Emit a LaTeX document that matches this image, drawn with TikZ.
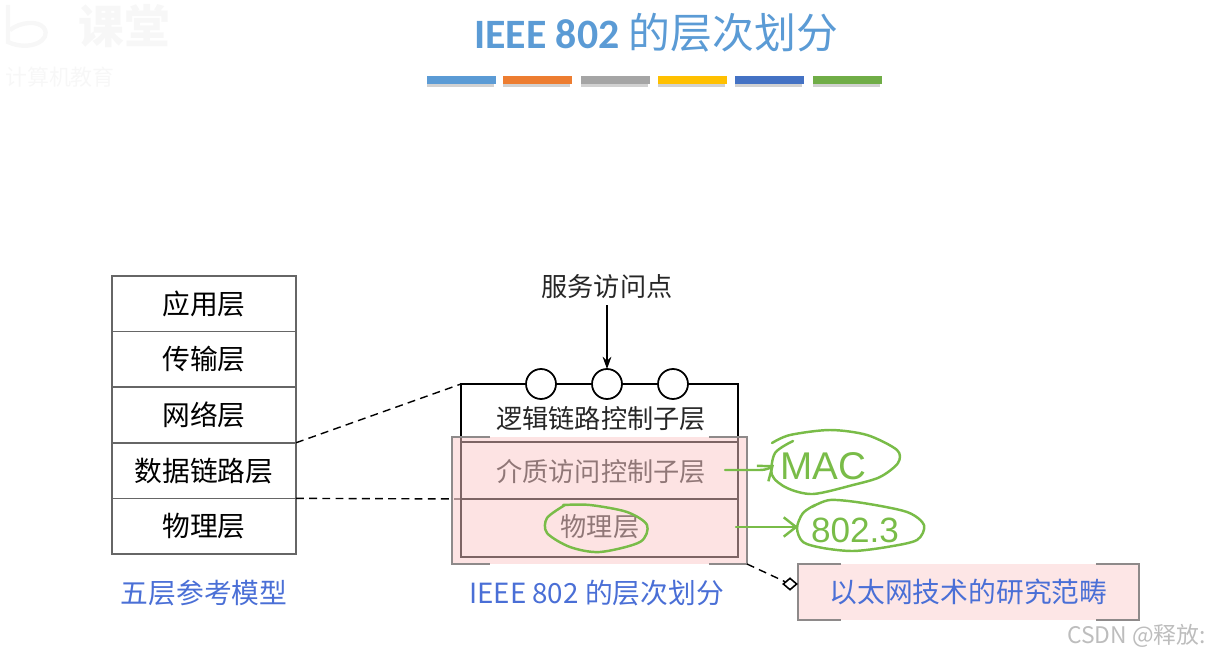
\documentclass[tikz,border=0pt]{standalone}
\usepackage{fontspec}
\setmainfont{Noto Sans CJK SC}
\newfontfamily\titlefont{Carlito}
\newfontfamily\handfont{Liberation Sans}
\usetikzlibrary{shapes.geometric, arrows.meta, positioning, calc}

\definecolor{titleblue}{HTML}{5B9BD5}
\definecolor{labelblue}{HTML}{4A6FD6}
\definecolor{pinkfill}{HTML}{FBC8C8}
\definecolor{calloutfill}{HTML}{FDE6E6}
\definecolor{bracketgray}{HTML}{8E8A8A}
\definecolor{handgreen}{HTML}{79BC48}

\tikzset{
  stackbox/.style={draw=black!60, line width=0.9pt, minimum width=3.68cm, minimum height=1.112cm,
    outer sep=0pt, inner sep=0pt, font=\fontsize{15.8}{18}\selectfont},
  layerbox/.style={minimum width=5.54cm, outer sep=0pt, inner sep=0pt},
  layertext/.style={font=\fontsize{14.9}{18}\selectfont, text=black!85},
  bluelabel/.style={font=\fontsize{15.8}{18}\selectfont, text=labelblue},
  hand/.style={draw=handgreen, line width=1.4pt, line cap=round, line join=round},
  linkdash/.style={line width=0.8pt, dash pattern=on 4.5pt off 3pt},
  mark bar/.style={minimum width=1.38cm, minimum height=0.16cm, inner sep=0pt, outer sep=0pt},
  water/.style={text=black!3}
}

% gray side lines with short stubs at the corners
\newcommand{\bracketbox}[2]{
  \draw[bracketgray, line width=1pt] ([xshift=#2]#1.north west) -- (#1.north west) -- (#1.south west) -- ([xshift=#2]#1.south west);
  \draw[bracketgray, line width=1pt] ([xshift=-#2]#1.north east) -- (#1.north east) -- (#1.south east) -- ([xshift=-#2]#1.south east);
}

\begin{document}
\begin{tikzpicture}[x=0.02cm, y=-0.02cm, node distance=0pt]
\useasboundingbox (0,0) rectangle (1213,655);

% Watermark
\node[water, font=\bfseries\fontsize{26}{28}\selectfont] (wmark) at (124,26) {课堂};
\node[water, font=\fontsize{12.5}{14}\selectfont] (wmarksub) at (60,77) {计算机教育};
\draw[black!3, line width=2.5pt] (8,5) -- (8,42) .. controls (30,52) and (52,40) .. (44,28) .. controls (38,20) and (20,22) .. (10,30);

% Title
\node[text=titleblue, font=\fontsize{23.8}{26}\selectfont] (title) at (656,33) {{\titlefont\bfseries IEEE 802} 的层次划分};

% Colour bars
\foreach \x/\c in {461/5B9BD5,537/ED7D31,615/A5A5A5,692/FFC000,769/4472C4,847/70AD47}{
    \definecolor{barcolor}{HTML}{\c}
    \fill[black!18] (\x-34,83) rectangle (\x+33,87);
    \node[mark bar, fill=barcolor] (bar\x) at (\x,80) {};
}

% Five layer model
\node[stackbox] (appbox) at (204,303.8) {应用层};
\node[stackbox, below=of appbox] (transbox) {传输层};
\node[stackbox, below=of transbox] (netbox) {网络层};
\node[stackbox, below=of netbox] (linkbox) {数据链路层};
\node[stackbox, below=of linkbox] (physbox) {物理层};
\node[bluelabel] (stacklabel) at (204,593) {五层参考模型};

% IEEE 802 layers
\node[layerbox, minimum height=1.16cm] (llcbox) at (599.5,413) {};
\node[layerbox, minimum height=1.14cm, below=of llcbox] (macbox) {};
\node[layerbox, minimum height=1.16cm, below=of macbox] (phybox) {};
\node[layertext] (llctext) at (601,419) {逻辑链路控制子层};
\node[layertext] (mactext) at (601,472) {介质访问控制子层};
\node[layertext] (phytext) at (600,527) {物理层};
\draw[line width=1.5pt] (llcbox.north west) rectangle (phybox.south east);
\draw[line width=0.8pt] (macbox.north west) -- (macbox.north east);
\draw[line width=0.8pt] (macbox.south west) -- (macbox.south east);
\node[bluelabel] (ieeelabel) at (596.5,593) {IEEE 802 的层次划分};

% Service access points
\foreach \x/\n in {541/sapa,607/sapb,673/sapc}
    \node[circle, draw, fill=white, line width=1pt, minimum size=0.6cm, inner sep=0pt, outer sep=0pt] (\n) at (\x,384) {};
\node[font=\fontsize{14.9}{18}\selectfont, text=black!85] (saptext) at (607,287) {服务访问点};
\draw[-{Stealth[length=7pt,width=5pt]}, line width=0.7pt] (saptext.south -| sapb) -- (sapb.north);

% Dashed links
\draw[linkdash] (linkbox.north east) -- (llcbox.north west);
\draw[linkdash] (linkbox.south east) -- (macbox.south west);

% Highlight over the lower layers
\node[minimum width=5.9cm, minimum height=2.54cm, fill=pinkfill, fill opacity=0.5, inner sep=0pt, outer sep=0pt] (pinkbox) at (599.5,500.5) {};
\bracketbox{pinkbox}{0.76cm}

% Callout
\node[minimum width=6.82cm, minimum height=1.12cm, fill=calloutfill, inner sep=0pt, outer sep=0pt, bluelabel] (callout) at (968.5,592) {以太网技术的研究范畴};
\bracketbox{callout}{0.86cm}
\node[diamond, draw, fill=white, line width=0.9pt, minimum width=0.28cm, minimum height=0.24cm, inner sep=0pt] (tip) at (790,584) {};
\draw[linkdash] (pinkbox.south east) -- (tip);

% Handwriting
\draw[hand] plot[smooth] coordinates {(563,505) (590,505) (627,512) (647,525) (640,542) (600,552) (570,547) (547,533) (547,518) (565,505)};
\draw[hand] plot[smooth] coordinates {(772,443) (790,435) (830,430) (867,435) (897,450) (898,463) (880,477) (853,485) (813,494) (787,488) (772,475) (775,453) (793,441)};
\draw[hand] plot[smooth] coordinates {(812,507) (830,500) (863,503) (907,512) (924,525) (917,540) (887,547) (853,551) (823,548) (803,542) (797,528) (803,513) (815,505)};
\node[text=handgreen, font=\handfont\fontsize{22}{24}\selectfont] (mactag) at (823,466) {MAC};
\node[text=handgreen, font=\handfont\fontsize{20}{22}\selectfont] (stdtag) at (855,530) {802.3};
\coordinate (macfrom) at (725,470);
\coordinate (macto) at (774,465);
\coordinate (phyfrom) at (736,527);
\coordinate (phyto) at (798,527);
\draw[hand, -{Straight Barb[length=7pt,width=11pt]}] (macfrom) -- (760,470) .. controls (766,470) and (770,468) .. (macto);
\draw[hand, -{Straight Barb[length=7pt,width=11pt]}] (phyfrom) -- (phyto);

% Footer mark
\node[text=black!26, font=\fontsize{13}{14}\selectfont, anchor=east] (csdn) at (1212,636) {CSDN @释放:};
\end{tikzpicture}
\end{document}
